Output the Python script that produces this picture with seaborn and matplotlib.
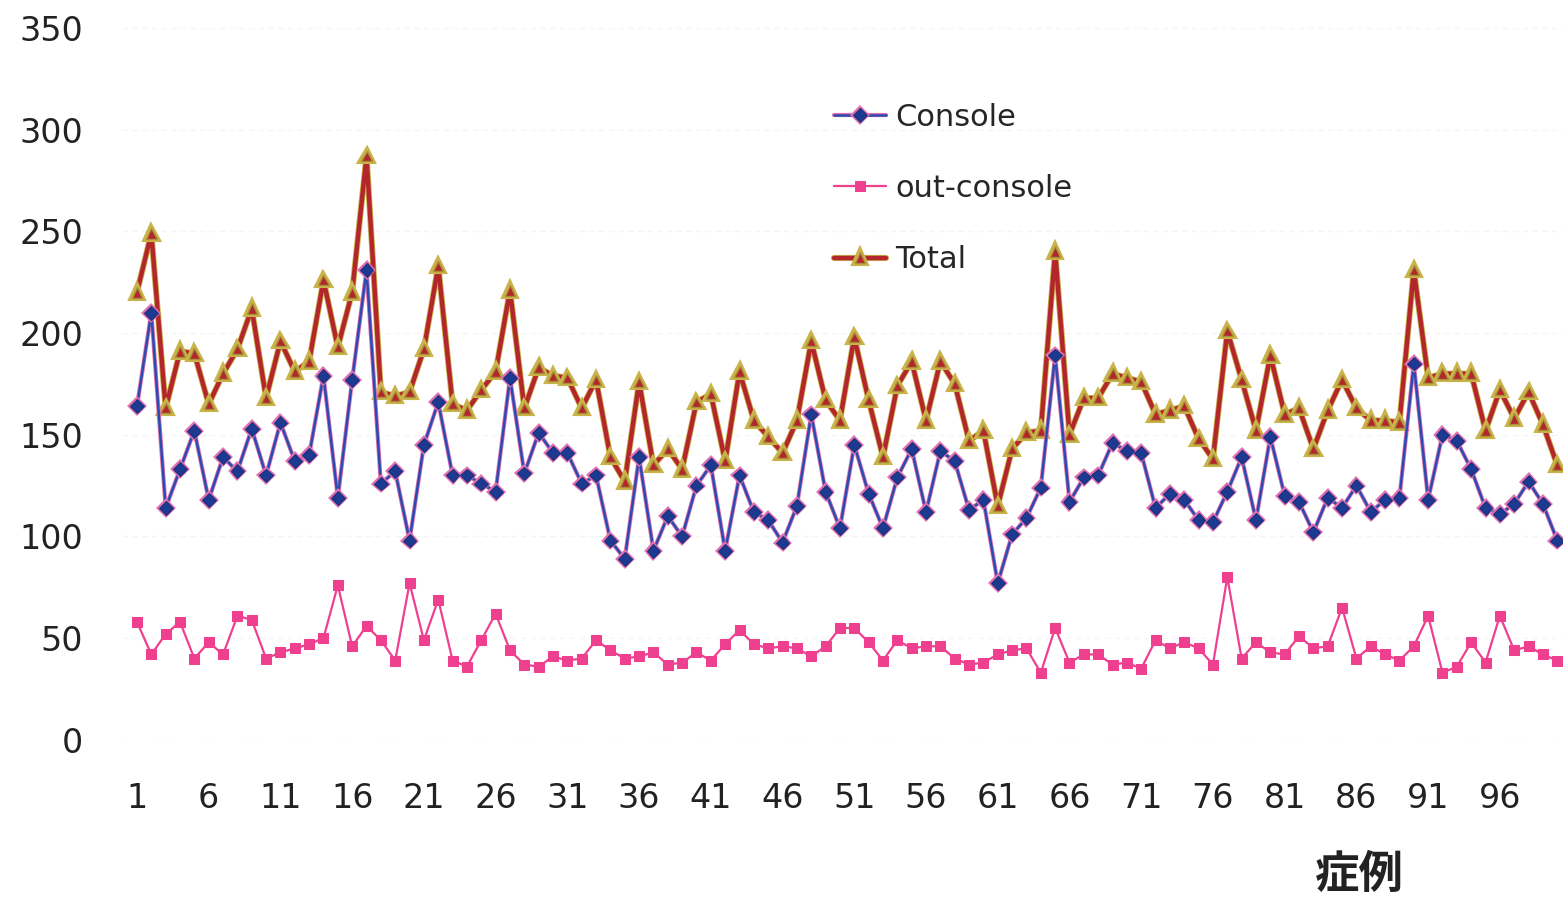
import numpy as np
import pandas as pd
import matplotlib
matplotlib.use("Agg")
import matplotlib.pyplot as plt
import matplotlib.patheffects as pe
import seaborn as sns

# data (cases 1..100)
cases = list(range(1, 101))

console = [164, 210, 114, 133, 152, 118, 139, 132, 153, 130,
           156, 137, 140, 179, 119, 177, 231, 126, 132, 98,
           145, 166, 130, 130, 126, 122, 178, 131, 151, 141,
           141, 126, 130, 98, 89, 139, 93, 110, 100, 125,
           135, 93, 130, 112, 108, 97, 115, 160, 122, 104,
           145, 121, 104, 129, 143, 112, 142, 137, 113, 118,
           77, 101, 109, 124, 189, 117, 129, 130, 146, 142,
           141, 114, 121, 118, 108, 107, 122, 139, 108, 149,
           120, 117, 102, 119, 114, 125, 112, 118, 119, 185,
           118, 150, 147, 133, 114, 111, 116, 127, 116, 98]

out_console = [58, 42, 52, 58, 40, 48, 42, 61, 59, 40,
               43, 45, 47, 50, 76, 46, 56, 49, 39, 77,
               49, 69, 39, 36, 49, 62, 44, 37, 36, 41,
               39, 40, 49, 44, 40, 41, 43, 37, 38, 43,
               39, 47, 54, 47, 45, 46, 45, 41, 46, 55,
               55, 48, 39, 49, 45, 46, 46, 40, 37, 38,
               42, 44, 45, 33, 55, 38, 42, 42, 37, 38,
               35, 49, 45, 48, 45, 37, 80, 40, 48, 43,
               42, 51, 45, 46, 65, 40, 46, 42, 39, 46,
               61, 33, 36, 48, 38, 61, 44, 46, 42, 39]

total = [220, 249, 163, 191, 190, 165, 180, 192, 212, 168,
         196, 181, 186, 226, 193, 220, 287, 171, 169, 171,
         192, 233, 165, 162, 172, 181, 221, 163, 183, 179,
         178, 163, 177, 139, 127, 176, 135, 143, 133, 166,
         170, 137, 181, 157, 149, 141, 157, 196, 167, 157,
         198, 167, 139, 174, 186, 157, 186, 175, 147, 152,
         115, 143, 151, 152, 240, 150, 168, 168, 180, 178,
         176, 160, 162, 164, 148, 138, 201, 177, 152, 189,
         160, 163, 143, 162, 177, 163, 157, 157, 156, 231,
         178, 180, 180, 180, 152, 172, 158, 171, 155, 135]

y_ticks = [0, 50, 100, 150, 200, 250, 300, 350]
x_ticks = list(range(1, 100, 5))

sns.set_style("white")
plt.rcParams["font.family"] = ["DejaVu Sans", "Noto Sans CJK JP"]

fig = plt.figure(figsize=(15.63, 8.99), dpi=100)
ax = fig.add_axes([0.078, 0.177, 0.922, 0.792])

sns.lineplot(x=cases, y=total, ax=ax, color="#b3262b", linewidth=3.2,
             marker="^", markersize=7.5, markeredgecolor="#a89038",
             markeredgewidth=1.0, markerfacecolor="#b3262b", label="Total",
             path_effects=[pe.Stroke(linewidth=4.4, foreground="#c9b34a"), pe.Normal()])
sns.lineplot(x=cases, y=console, ax=ax, color="#2a4cb0", linewidth=1.8,
             marker="D", markersize=7, markeredgecolor="#1c2f80",
             markerfacecolor="#1c3a90", label="Console",
             path_effects=[pe.Stroke(linewidth=3.0, foreground="#e070b0"), pe.Normal()])
sns.lineplot(x=cases, y=out_console, ax=ax, color="#ef3f8f", linewidth=1.6,
             marker="s", markersize=7, markeredgecolor="#ef3f8f",
             markerfacecolor="#ef3f8f", label="out-console")

ax.set_xlim(-0.05, 100.4)
ax.set_ylim(0, 350)
ax.set_xticks(x_ticks)
ax.set_yticks(y_ticks)
ax.tick_params(axis="both", length=0, labelsize=24, colors="#222222")
ax.tick_params(axis="x", pad=30)
ax.tick_params(axis="y", pad=28)
for s in ax.spines.values():
    s.set_visible(False)
ax.yaxis.grid(True, color="#f5f5f5", linewidth=1, linestyle=(0, (4, 3)))
ax.set_xlabel("")
ax.set_ylabel("")

# legend in Console / out-console / Total order
handles, labels = ax.get_legend_handles_labels()
order = [labels.index("Console"), labels.index("out-console"), labels.index("Total")]
ax.get_legend().remove()
fig.legend([handles[i] for i in order], [labels[i] for i in order],
           loc="upper left", bbox_to_anchor=(0.516, 0.916), frameon=False,
           fontsize=22, labelspacing=1.38, handlelength=1.7, handletextpad=0.3)

fig.text(0.87, 0.027, "症例", fontsize=32, fontweight="bold", ha="center",
         va="center", color="#222222", family=["Noto Sans CJK JP"])

fig.savefig("out.png", dpi=100)
plt.close(fig)
